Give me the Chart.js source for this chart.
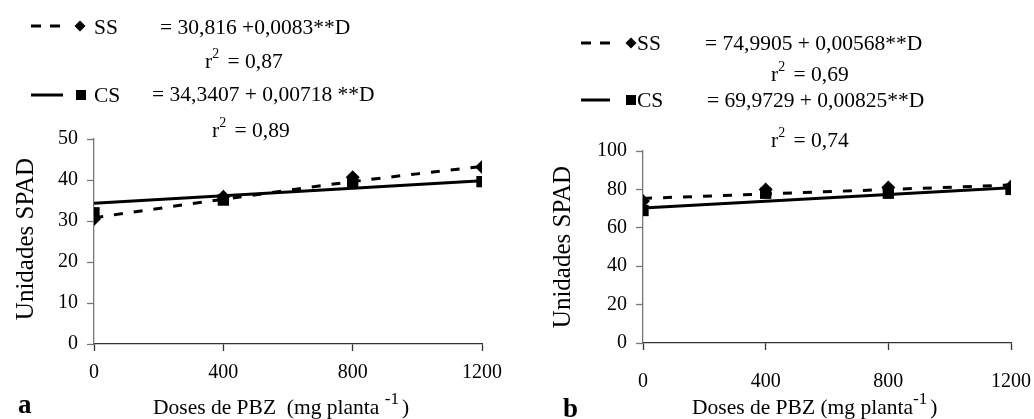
<!DOCTYPE html>
<html>
<head>
<meta charset="utf-8">
<script src="https://cdn.jsdelivr.net/npm/chart.js@4.4.1/dist/chart.umd.min.js"></script>
<style>
  html, body { margin: 0; padding: 0; background: #fff; }
  #wrap { position: relative; width: 1034px; height: 419px; overflow: hidden; }
  .panel { position: absolute; top: 0; width: 517px; height: 419px; }
</style>
</head>
<body>
<div id="wrap">
  <div class="panel" style="left:0"><canvas id="chartA"></canvas></div>
  <div class="panel" style="left:517px"><canvas id="chartB"></canvas></div>
</div>
<script>
// doses of PBZ (mg planta-1)
const doses = [0, 400, 800, 1200];
const fitDoses = [0, 1200];

// panel a - SPAD units
const ssA = [30.5, 35.9, 40.7, 43.2];
const csA = [32.0, 35.1, 39.3, 39.6];
const ssCurveA = [30.8, 35.3, 39.6, 43.3];
const csFitA = [34.3, 39.8];

// panel b - SPAD units
const ssB = [74.0, 80.0, 81.0, 81.5];
const csB = [69.0, 78.0, 78.0, 80.0];
const ssFitB = [75.3, 82.3];
const csFitB = [70.3, 80.8];

const yTicksA = { max: 50, step: 10 };
const yTicksB = { max: 100, step: 20 };

const SERIF = "'Liberation Serif', 'Times New Roman', serif";
Chart.defaults.font.family = SERIF;
Chart.defaults.color = "#000";

function pts(xs, ys) {
  return xs.map((x, i) => ({ x: x, y: ys[i] }));
}

function markers(xs, ys, style, r) {
  return {
    data: pts(xs, ys),
    showLine: false,
    pointStyle: style,
    pointRadius: r,
    pointBackgroundColor: "#000",
    pointBorderColor: "#000",
    pointBorderWidth: 0,
  };
}

function line(xs, ys, dashed, tension) {
  return {
    data: pts(xs, ys),
    showLine: true,
    borderColor: "#000",
    borderWidth: 3,
    borderDash: dashed ? [9, 11] : [],
    pointRadius: 0,
    tension: tension || 0,
    fill: false,
  };
}

// text with superscripts: parts like ["r", ["2"], " = 0,87"]
function richText(ctx, x, y, parts, size, supScale) {
  const k = supScale || 0.65;
  let cx = x;
  parts.forEach((p) => {
    const sup = Array.isArray(p);
    const t = sup ? p[0] : p;
    ctx.font = (sup ? size * k : size) + "px " + SERIF;
    ctx.fillText(t, cx, sup ? y - size * 0.45 : y);
    cx += ctx.measureText(t).width + (sup ? 3 : 0);
  });
}

function notesPlugin(n) {
  return {
    id: "notes",
    afterDraw(chart) {
      const ctx = chart.ctx;
      ctx.save();
      ctx.fillStyle = "#000";
      ctx.strokeStyle = "#000";
      ctx.textBaseline = "alphabetic";
      ctx.textAlign = "left";

      n.rows.forEach((r) => {
        // line sample
        ctx.lineWidth = 3;
        ctx.setLineDash(r.dashed ? [10, 9] : []);
        ctx.beginPath();
        ctx.moveTo(r.lx1, r.ly);
        ctx.lineTo(r.lx2, r.ly);
        ctx.stroke();
        ctx.setLineDash([]);
        // marker
        ctx.beginPath();
        if (r.diamond) {
          ctx.moveTo(r.mx, r.ly - 5.5);
          ctx.lineTo(r.mx + 5.5, r.ly);
          ctx.lineTo(r.mx, r.ly + 5.5);
          ctx.lineTo(r.mx - 5.5, r.ly);
          ctx.closePath();
          ctx.fill();
        } else {
          ctx.fillRect(r.mx - 5, r.ly - 5, 10, 10);
        }
        ctx.font = "21.5px " + SERIF;
        ctx.fillText(r.name, r.nx, r.base);
        ctx.fillText(r.eq, r.ex, r.ebase);
        richText(ctx, r.rx, r.rbase, ["r", ["2"], " = " + r.r2], 21.5);
      });

      // y axis title
      ctx.save();
      ctx.translate(n.yTitle.x, n.yTitle.y);
      ctx.rotate(-Math.PI / 2);
      ctx.textAlign = "center";
      ctx.font = "25px " + SERIF;
      ctx.fillText("Unidades SPAD", 0, 0);
      ctx.restore();

      // x axis title
      richText(ctx, n.xTitle.x, n.xTitle.y, [n.xTitle.text, ["-1"], ")"], 21.5, 0.8);

      // panel letter
      ctx.font = "bold 27px " + SERIF;
      ctx.fillText(n.letter.t, n.letter.x, n.letter.y);
      ctx.restore();
    },
  };
}

function buildChart(id, datasets, yt, area, xPad, notes) {
  const W = 517, H = 419;
  return new Chart(document.getElementById(id), {
    type: "scatter",
    data: { datasets: datasets },
    options: {
      responsive: true,
      maintainAspectRatio: false,
      animation: false,
      layout: { padding: { left: 0, top: area.top, right: W - area.right, bottom: 0 } },
      plugins: { legend: { display: false }, tooltip: { enabled: false } },
      scales: {
        x: {
          type: "linear",
          min: 0,
          max: 1200,
          ticks: {
            stepSize: 400, padding: xPad, font: { size: 20 }, color: "#000", maxRotation: 0,
            callback: (v) => String(v),
          },
          grid: { drawOnChartArea: false, drawTicks: true, tickLength: 7, tickColor: "#333", tickWidth: 1.3 },
          border: { display: true, color: "#333", width: 1.3 },
          afterFit: (s) => {
            s.height = H - area.bottom;
            // tick padding would otherwise widen the right margin
            s.paddingRight = Math.min(s.paddingRight, W - area.right);
          },
        },
        y: {
          min: 0,
          max: yt.max,
          ticks: { stepSize: yt.step, padding: 9, font: { size: 20 }, color: "#000", callback: (v) => String(v) },
          grid: { drawOnChartArea: false, drawTicks: true, tickLength: 7, tickColor: "#777", tickWidth: 1.3 },
          border: { display: true, color: "#777", width: 1.3 },
          afterFit: (s) => { s.width = area.left; },
        },
      },
    },
    plugins: [notesPlugin(notes)],
  });
}

buildChart(
  "chartA",
  [
    markers(doses, ssA, "rectRot", 7),
    markers(doses, csA, "rect", 8),
    line(doses, ssCurveA, true, 0.4),
    line(fitDoses, csFitA, false),
  ],
  yTicksA,
  { left: 94, right: 482, top: 139, bottom: 344 },
  10,
  {
    rows: [
      { dashed: true, lx1: 31, lx2: 60, ly: 26, diamond: true, mx: 80, name: "SS", nx: 94, base: 34,
        eq: "= 30,816 +0,0083**D", ex: 160, ebase: 34, r2: "0,87", rx: 205, rbase: 68 },
      { dashed: false, lx1: 31, lx2: 63, ly: 95, diamond: false, mx: 81, name: "CS", nx: 94, base: 102,
        eq: "= 34,3407 + 0,00718 **D", ex: 152, ebase: 101, r2: "0,89", rx: 212, rbase: 137 },
    ],
    yTitle: { x: 33, y: 239 },
    xTitle: { x: 153, y: 414, text: "Doses de PBZ  (mg planta " },
    letter: { t: "a", x: 18, y: 413 },
  }
);

buildChart(
  "chartB",
  [
    markers(doses, ssB, "rectRot", 7),
    markers(doses, csB, "rect", 8),
    line(fitDoses, ssFitB, true),
    line(fitDoses, csFitB, false),
  ],
  yTicksB,
  { left: 126, right: 494, top: 151, bottom: 343 },
  20,
  {
    rows: [
      { dashed: true, lx1: 64, lx2: 93, ly: 43, diamond: true, mx: 114, name: "SS", nx: 120, base: 50,
        eq: "= 74,9905 + 0,00568**D", ex: 188, ebase: 50, r2: "0,69", rx: 254, rbase: 81 },
      { dashed: false, lx1: 64, lx2: 93, ly: 100, diamond: false, mx: 114, name: "CS", nx: 120, base: 107,
        eq: "= 69,9729 + 0,00825**D", ex: 190, ebase: 107, r2: "0,74", rx: 254, rbase: 147 },
    ],
    yTitle: { x: 53, y: 247 },
    xTitle: { x: 175, y: 414, text: "Doses de PBZ (mg planta" },
    letter: { t: "b", x: 46, y: 417 },
  }
);
</script>
</body>
</html>
